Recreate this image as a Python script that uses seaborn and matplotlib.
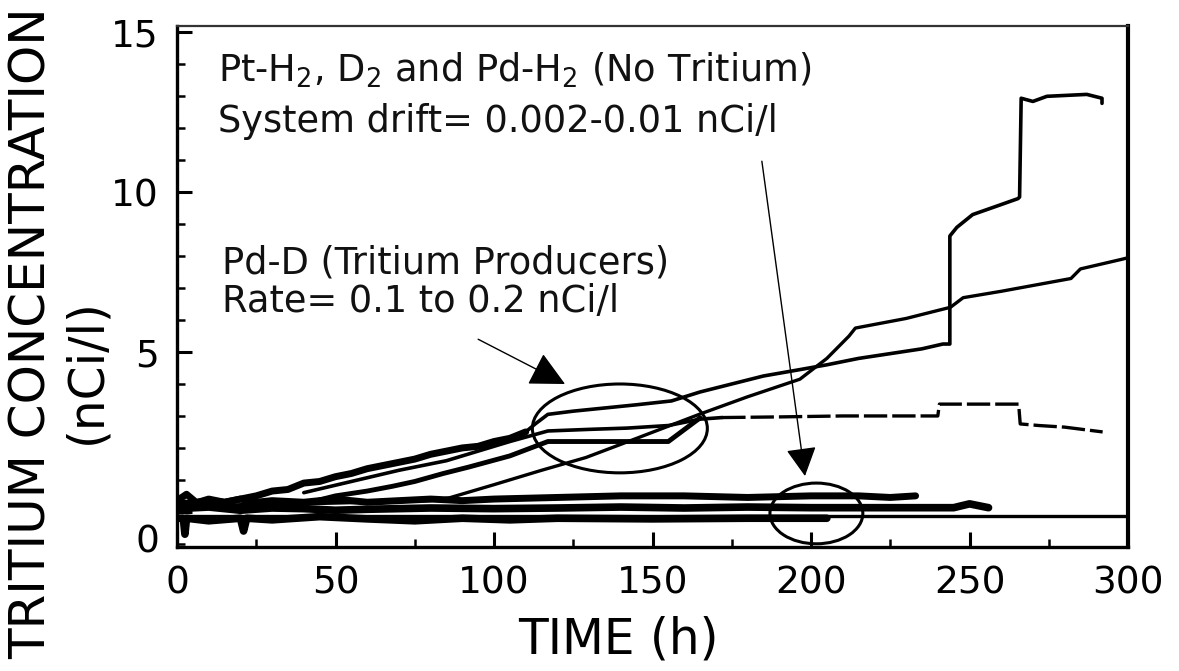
import matplotlib
matplotlib.use("Agg")
import matplotlib.pyplot as plt
import matplotlib.transforms as mtransforms
from matplotlib.patches import Ellipse
from matplotlib.ticker import MultipleLocator, FixedLocator
import seaborn as sns

# ---------------- data ----------------
# Pd-D tritium producer 1 (the stepped curve)
s_time = [0, 5, 10, 15, 20, 25, 30, 35, 40, 45, 50, 55, 60, 65, 70, 75, 80, 85, 90, 95,
          100, 105, 110, 113, 117, 125, 135, 145, 156, 165, 175, 185, 196.5, 205, 215, 225,
          235, 241.6, 243.8, 243.8, 246, 251, 259.6, 265.3, 265.8, 266.3, 270, 274.4, 287,
          291.8, 291.8]
s_conc = [0.3, 0.25, 0.4, 0.3, 0.4, 0.5, 0.65, 0.7, 0.9, 0.95, 1.1, 1.2, 1.35, 1.45, 1.55,
          1.65, 1.8, 1.9, 2.0, 2.05, 2.2, 2.3, 2.5, 2.75, 3.05, 3.15, 3.25, 3.35, 3.47,
          3.75, 4.0, 4.25, 4.45, 4.6, 4.8, 4.95, 5.1, 5.25, 5.25, 8.63, 8.9, 9.3, 9.6, 9.8,
          9.85, 12.94, 12.84, 13.0, 13.06, 12.94, 12.78]

# Pd-D tritium producer 2 (straight rising line)
b_time = [0, 20, 40, 60, 80, 86, 100, 115, 129, 145, 165, 180, 196.5, 205, 212, 214, 230,
          244, 248, 260, 282, 285, 298, 300]
b_conc = [0.2, 0.15, 0.25, 0.3, 0.35, 0.44, 0.85, 1.3, 1.7, 2.3, 3.06, 3.6, 4.15, 4.8, 5.5,
          5.75, 6.05, 6.4, 6.7, 6.9, 7.3, 7.6, 7.9, 7.95]

# Pd-D tritium producer 3 (lower line inside the ellipse)
l_time = [0, 20, 30, 42, 50, 60, 68, 75, 84, 92, 105, 117, 135, 155, 165]
l_conc = [0.1, 0.2, 0.3, 0.3, 0.5, 0.65, 0.8, 0.95, 1.2, 1.4, 1.75, 2.2, 2.2, 2.2, 2.94]

# Pd-D tritium producer 4 (middle line, broken trace later on)
m_time = [40, 55, 70, 85, 95, 105, 117, 130, 142, 155, 165, 172]
m_conc = [0.6, 0.95, 1.3, 1.6, 1.9, 2.2, 2.53, 2.58, 2.62, 2.7, 2.9, 2.95]
c_time = [172, 190, 210, 240, 240.5, 265.5, 266, 272, 280, 288, 292]
c_conc = [2.95, 2.97, 3.0, 3.0, 3.37, 3.37, 2.75, 2.7, 2.65, 2.55, 2.5]

# No-tritium controls (Pt-H2, D2, Pd-H2)
n1_time = [0, 3, 6, 10, 15, 20, 25, 30, 40, 50, 60, 70, 80, 90, 100, 120, 140, 160, 180,
           200, 215, 225, 233]
n1_conc = [0.35, 0.55, 0.3, 0.35, 0.3, 0.4, 0.3, 0.35, 0.3, 0.4, 0.3, 0.35, 0.4, 0.35,
           0.4, 0.45, 0.5, 0.5, 0.45, 0.5, 0.5, 0.45, 0.5]
n2_time = [0, 10, 20, 30, 40, 50, 60, 80, 100, 120, 140, 160, 180, 200, 220, 245, 250, 256]
n2_conc = [0.1, 0.15, 0.05, 0.12, 0.1, 0.05, 0.08, 0.12, 0.1, 0.12, 0.15, 0.12, 0.15,
           0.13, 0.13, 0.13, 0.25, 0.13]
n3_time = [0, 300]
n3_conc = [-0.12, -0.12]
n4_time = [0, 2, 2.5, 3, 10, 20, 21, 22, 30, 45, 60, 75, 90, 105, 120, 150, 180, 205]
n4_conc = [-0.2, -0.2, -0.7, -0.2, -0.28, -0.2, -0.6, -0.2, -0.25, -0.15, -0.22, -0.28,
           -0.2, -0.25, -0.2, -0.22, -0.2, -0.2]

x_ticks = [0, 50, 100, 150, 200, 250, 300]
y_ticks = [0, 5, 10, 15]

# ---------------- figure ----------------
sns.set_style("white")
plt.rcParams["font.family"] = ["DejaVu Sans"]
plt.rcParams["mathtext.fontset"] = "dejavusans"
plt.rcParams["text.color"] = "black"

W, H = 1179, 671
fig = plt.figure(figsize=(W / 100, H / 100), dpi=100)
ax = fig.add_axes([177 / W, 1 - 547 / H, (1128 - 177) / W, (547 - 26) / H])

series = [
    (n4_time, n4_conc, 5.5, "-"),
    (n3_time, n3_conc, 2.4, "-"),
    (n2_time, n2_conc, 5.5, "-"),
    (n1_time, n1_conc, 5.0, "-"),
    (l_time, l_conc, 3.5, "-"),
    (m_time, m_conc, 2.6, "-"),
    (c_time, c_conc, 2.4, (0, (7, 1.5))),
    (b_time, b_conc, 2.4, "-"),
    (s_time, s_conc, 2.6, "-"),
    (s_time[:23], s_conc[:23], 5.0, "-"),   # the noisy early part is drawn heavier
]
for t, c, lw, ls in series:
    sns.lineplot(x=t, y=c, ax=ax, color="black", lw=lw, linestyle=ls,
                 sort=False, estimator=None, legend=False)

ax.set_xlim(0, 300)
ax.set_ylim(-1.1, 15.2)
ax.xaxis.set_major_locator(FixedLocator(x_ticks))
ax.yaxis.set_major_locator(FixedLocator(y_ticks))
ax.xaxis.set_minor_locator(MultipleLocator(25))
ax.yaxis.set_minor_locator(MultipleLocator(1))
ax.tick_params(which="major", direction="in", length=11, width=2.2, labelsize=27,
               colors="black", labelcolor="black", pad=13)
ax.tick_params(which="minor", direction="in", length=6, width=1.8, colors="black")
ax.tick_params(axis="x", which="both", bottom=True, top=False)
ax.tick_params(axis="y", which="both", left=True, right=False)
ax.set_xlabel("")
ax.set_ylabel("")

for side, lw, col in [("left", 2.4, "black"), ("bottom", 2.4, "black"),
                      ("right", 3.0, "black"), ("top", 1.6, "#333333")]:
    ax.spines[side].set_linewidth(lw)
    ax.spines[side].set_color(col)

# "0" label sits lower in the original
zero_tick = ax.yaxis.get_major_ticks()[0]
zero_tick.label1.set_transform(zero_tick.label1.get_transform() +
                               mtransforms.ScaledTranslation(0, -0.27, fig.dpi_scale_trans))

# ellipses
ax.add_patch(Ellipse((139.7, 2.61), 55.2, 2.78, fill=False, lw=2.2, ec="black"))
ax.add_patch(Ellipse((201.7, -0.05), 29.3, 1.9, fill=False, lw=2.2, ec="black"))

# arrows
ax.annotate("", xy=(122.4, 4.0), xytext=(95, 5.4),
            arrowprops=dict(arrowstyle="-|>,head_length=2.2,head_width=1.1",
                            lw=1.0, color="black", shrinkA=0, shrinkB=0,
                            mutation_scale=10))
ax.annotate("", xy=(198.1, 1.12), xytext=(184.5, 10.97),
            arrowprops=dict(arrowstyle="-|>,head_length=1.8,head_width=0.95",
                            lw=1.0, color="black", shrinkA=0, shrinkB=0,
                            mutation_scale=10))

# annotation texts
tfs = 26.5
fig.text(218 / W, 1 - 82 / H, "Pt-H$_2$, D$_2$ and Pd-H$_2$ (No Tritium)",
         fontsize=tfs, va="baseline", ha="left", color="#111111")
fig.text(218 / W, 1 - 132 / H, "System drift= 0.002-0.01 nCi/l",
         fontsize=tfs, va="baseline", ha="left", color="#111111")
fig.text(222 / W, 1 - 273 / H, "Pd-D (Tritium Producers)",
         fontsize=tfs, va="baseline", ha="left", color="#111111")
fig.text(222 / W, 1 - 312 / H, "Rate= 0.1 to 0.2 nCi/l",
         fontsize=tfs, va="baseline", ha="left", color="#111111")

# axis titles
fig.text(618 / W, 1 - 640 / H, "TIME (h)", fontsize=35, ha="center", va="center")
fig.text(32 / W, 1 - 333 / H, "TRITIUM CONCENTRATION", fontsize=36, rotation=90,
         ha="center", va="center")
fig.text(86 / W, 1 - 371 / H, "(nCi/l)", fontsize=35, rotation=90,
         ha="center", va="center")

fig.savefig("out.png", dpi=100)
